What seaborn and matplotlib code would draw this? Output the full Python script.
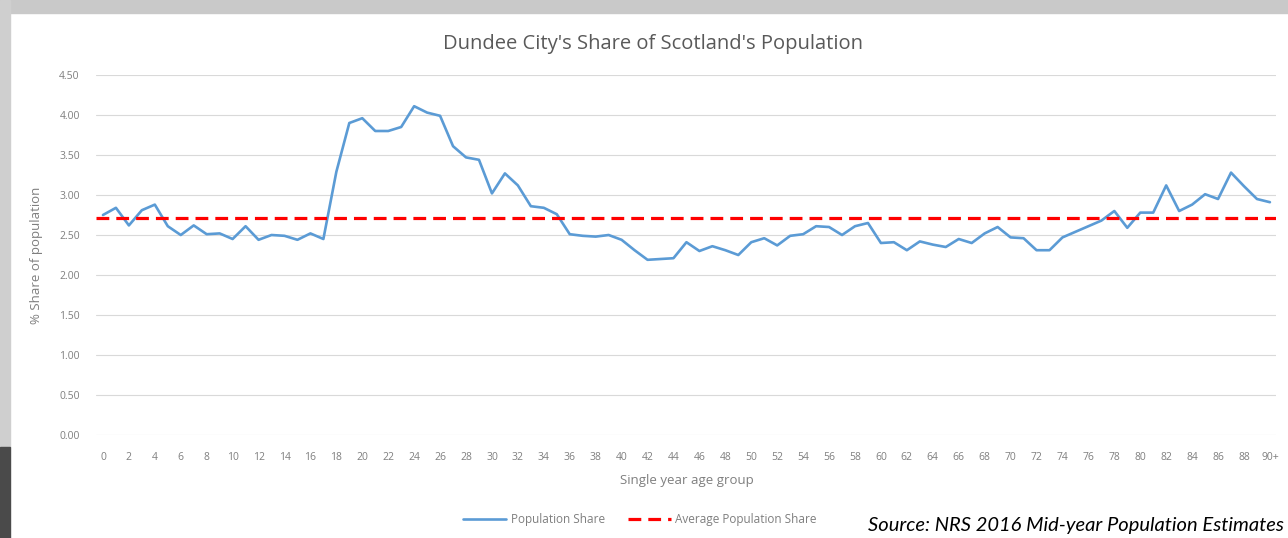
import numpy as np
import pandas as pd
import matplotlib
matplotlib.use("Agg")
import matplotlib.pyplot as plt
from matplotlib.lines import Line2D
from matplotlib.patches import Rectangle
import seaborn as sns

# Données (part de Dundee City dans la population écossaise, %)
ages = list(range(91))
tick_ages = list(range(0, 91, 2))
tick_labels = [str(a) for a in range(0, 90, 2)] + ["90+"]
share = [2.75, 2.84, 2.62, 2.81, 2.88, 2.61, 2.50, 2.62, 2.51, 2.52,
         2.45, 2.61, 2.44, 2.50, 2.49, 2.44, 2.52, 2.45, 3.29, 3.90,
         3.96, 3.80, 3.80, 3.85, 4.11, 4.03, 3.99, 3.61, 3.47, 3.44,
         3.02, 3.27, 3.12, 2.86, 2.84, 2.76, 2.51, 2.49, 2.48, 2.50,
         2.44, 2.31, 2.19, 2.20, 2.21, 2.41, 2.30, 2.36, 2.31, 2.25,
         2.41, 2.46, 2.37, 2.49, 2.51, 2.61, 2.60, 2.50, 2.61, 2.65,
         2.40, 2.41, 2.31, 2.42, 2.38, 2.35, 2.45, 2.40, 2.52, 2.60,
         2.47, 2.46, 2.31, 2.31, 2.47, 2.54, 2.61, 2.68, 2.80, 2.59,
         2.78, 2.78, 3.12, 2.80, 2.88, 3.01, 2.95, 3.28, 3.11, 2.95,
         2.91]
average_share = 2.71
y_ticks = [0.0, 0.5, 1.0, 1.5, 2.0, 2.5, 3.0, 3.5, 4.0, 4.5]

df = pd.DataFrame({"age": ages, "share": share})

sns.set_style("white")
plt.rcParams["font.family"] = ["Open Sans", "DejaVu Sans"]

fig = plt.figure(figsize=(12.88, 5.38), dpi=100)
fig.patch.set_facecolor("white")

# cadre / ombre autour de la zone du graphique
fig.patches.append(Rectangle((0, 0.975), 1, 0.025, transform=fig.transFigure,
                             color="#c9c9c9", zorder=-5))
fig.patches.append(Rectangle((0, 0.17), 0.008, 0.83, transform=fig.transFigure,
                             color="#cfcfcf", zorder=-5))
fig.patches.append(Rectangle((0, 0), 0.008, 0.17, transform=fig.transFigure,
                             color="#4a4a4a", zorder=-5))

ax = fig.add_axes([0.0749, 0.1914, 0.9161, 0.6692])

sns.lineplot(data=df, x="age", y="share", ax=ax, color="#5B9BD5",
             linewidth=1.9, zorder=3)
ax.axhline(average_share, color="#FF0000", linewidth=2.3,
           dashes=(4, 2.2), zorder=4)

ax.set_xlim(-0.5, 90.5)
ax.set_ylim(0, 4.5)
ax.set_yticks(y_ticks)
ax.set_yticklabels([f"{v:.2f}" for v in y_ticks])
ax.set_xticks(tick_ages)
ax.set_xticklabels(tick_labels)
ax.yaxis.grid(True, color="#d9d9d9", linewidth=0.8)
ax.xaxis.grid(False)
for s in ax.spines.values():
    s.set_visible(False)
ax.tick_params(axis="both", length=0, labelsize=7.5, colors="#7f7f7f")
ax.tick_params(axis="x", pad=12)
ax.tick_params(axis="y", pad=12)

ax.set_xlabel("Single year age group", fontsize=9.5, color="#7f7f7f", labelpad=8)
ax.set_ylabel("% Share of population", fontsize=9.5, color="#7f7f7f", labelpad=12)

# titre centré sur la figure (comme dans Excel)
fig.text(0.507, 0.918, "Dundee City's Share of Scotland's Population",
         ha="center", va="center", fontsize=14.5, color="#595959")

handles = [Line2D([], [], color="#5B9BD5", linewidth=1.9),
           Line2D([], [], color="#FF0000", linewidth=2.3, dashes=(4, 2.2))]
fig.legend(handles, ["Population Share", "Average Population Share"],
           loc="center", bbox_to_anchor=(0.497, 0.034), ncol=2, frameon=False,
           fontsize=8.5, labelcolor="#7f7f7f", handlelength=3.6,
           columnspacing=2.0, handletextpad=0.4)

fig.text(0.997, 0.024, "Source: NRS 2016 Mid-year Population Estimates",
         ha="right", va="center", fontsize=14.5, style="italic", color="black",
         family=["Lato", "DejaVu Sans"])

fig.savefig("out.png", dpi=100)
